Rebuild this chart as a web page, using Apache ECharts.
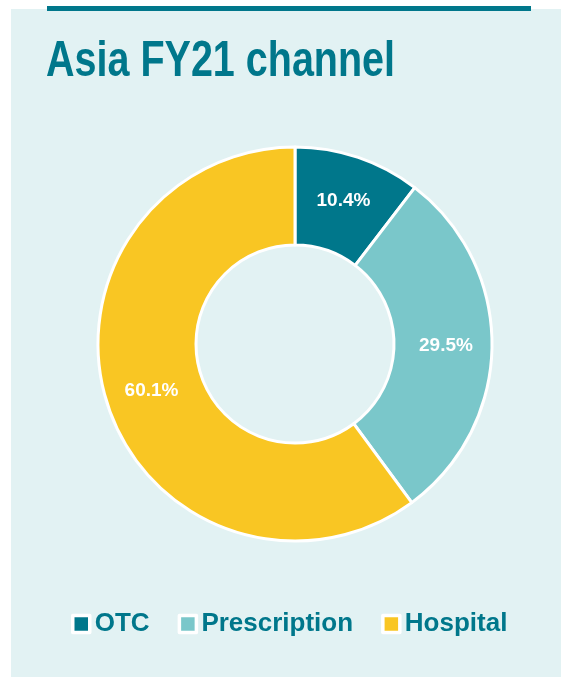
<!DOCTYPE html>
<html>
<head>
<meta charset="utf-8">
<script src="https://cdn.jsdelivr.net/npm/echarts@6/dist/echarts.min.js"></script>
<style>
  html, body { margin: 0; padding: 0; background: #fff; }
  #chart { width: 561px; height: 677px; }
</style>
</head>
<body>
<div id="chart"></div>
<script>
// channel split
const channels = ['OTC', 'Prescription', 'Hospital']
const shares = [10.4, 29.5, 60.1]
const colors = ['#00778B', '#7AC7CA', '#F9C623']
const titleText = 'Asia FY21 channel'

const teal = '#00778B'
const font = '"Liberation Sans", Arial, sans-serif'

const chart = echarts.init(document.getElementById('chart'))
chart.setOption({
  backgroundColor: '#fff',
  color: colors,
  graphic: [
    { type: 'rect', shape: { x: 11, y: 9, width: 560, height: 680 }, style: { fill: '#E2F2F3' }, z: -10 },
    { type: 'rect', shape: { x: 47, y: 6, width: 484, height: 5 }, style: { fill: teal }, z: -9 },
    // title is narrow bold in the original, so squeeze it a bit
    {
      type: 'text',
      x: 46,
      y: 37,
      scaleX: 0.79,
      style: {
        text: titleText,
        fill: teal,
        font: 'bold 50px ' + font,
        verticalAlign: 'top'
      }
    }
  ],
  legend: {
    left: 66,
    top: 606,
    icon: 'rect',
    itemWidth: 17,
    itemHeight: 17,
    itemGap: 28,
    itemStyle: { borderColor: '#fff', borderWidth: 3.5 },
    textStyle: { color: teal, fontFamily: font, fontWeight: 'bold', fontSize: 26 },
    data: channels
  },
  series: [{
    type: 'pie',
    center: [295, 344],
    radius: [99, 197],
    startAngle: 90,
    clockwise: true,
    avoidLabelOverlap: false,
    itemStyle: { borderColor: '#fff', borderWidth: 3 },
    label: {
      position: 'inside',
      formatter: '{c}%',
      color: '#fff',
      fontFamily: font,
      fontWeight: 'bold',
      fontSize: 19
    },
    labelLine: { show: false },
    emphasis: { disabled: true },
    data: channels.map((name, i) => ({ name, value: shares[i] }))
  }]
})
</script>
</body>
</html>
